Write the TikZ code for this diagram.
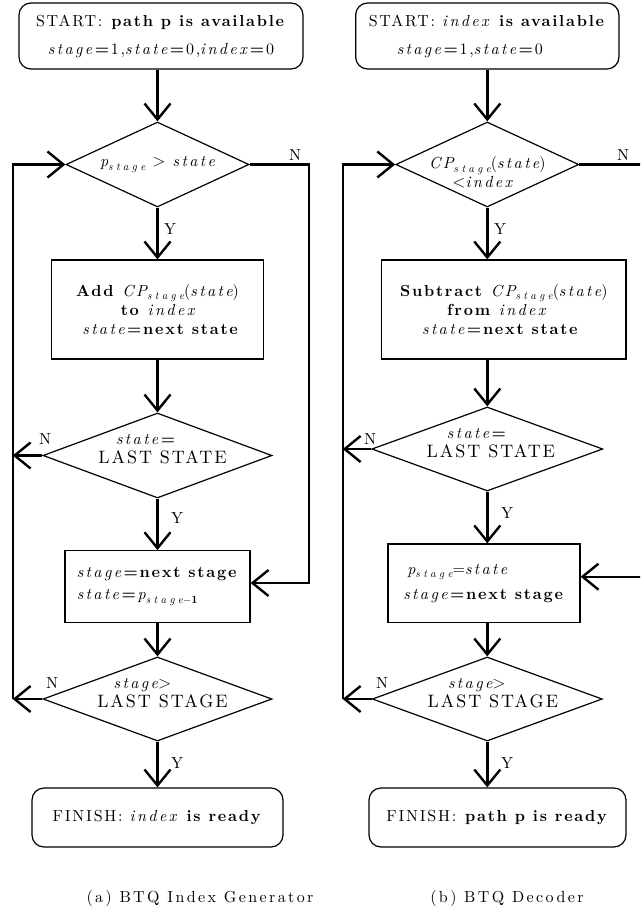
\documentclass[tikz,border=0pt]{standalone}
\usepackage{fontspec}
\setmainfont{lmroman10-regular.otf}[BoldFont=lmroman10-bold.otf,ItalicFont=lmroman10-italic.otf,BoldItalicFont=lmroman10-bolditalic.otf,LetterSpace=11]
\newfontfamily\itf{lmroman10-italic.otf}[LetterSpace=15]
\newfontfamily\subf{lmroman10-italic.otf}[LetterSpace=30]
\newfontfamily\subbf{lmroman10-bold.otf}
\newfontfamily\capfont{lmroman10-regular.otf}[LetterSpace=15]
\usetikzlibrary{arrows.meta,shapes.geometric}
\newcommand\vr[1]{{\itf #1}}
\newcommand\eqs{\textbf{=}}
\newcommand\sub[1]{\raisebox{-3.5pt}{\fontsize{11}{12}\selectfont\subf #1}}
\newcommand\subone{\raisebox{-3.5pt}{\fontsize{11}{12}\selectfont$-$\subbf 1}}
\newcommand\bigf{\fontsize{18}{20}\selectfont}
\begin{document}
\begin{tikzpicture}[x=1pt,y=-1pt,
  every node/.style={font=\fontsize{16}{19}\selectfont},
  conn/.style={line width=2.4pt},
  arr/.style={conn,-{Straight Barb[length=16pt,width=26pt,line width=2.4pt]}},
  rbox/.style={draw,line width=1.2pt,rounded corners=12pt,inner sep=0pt,align=center},
  sbox/.style={draw,line width=1.2pt,inner sep=0pt,align=center},
  dia/.style={draw,diamond,line width=1.2pt,inner sep=0pt},
  dtxt/.style={inner sep=0pt,align=center},
  yn/.style={inner sep=0pt},
  capt/.style={inner sep=0pt,font=\capfont\fontsize{16}{19}\selectfont}]
\useasboundingbox (0,0) rectangle (640,918);
\fill[white] (0,0) rectangle (640,918);
\clip (0,0) rectangle (640,918);

% ---------- (a) ----------
\node[rbox,minimum width=284pt,minimum height=66pt] (sa) at (161,36)
  {START: \textbf{path p is available}\\[9pt]\vr{stage}\eqs1,\vr{state}\eqs0,\vr{index}\eqs0};
\node[dia,minimum width=183pt,minimum height=85pt] (d1a) at (157.5,164.5) {};
\node[dtxt] (t1a) at (d1a.center) {\vr{p}\sub{stage} $>$ \vr{state}};
\node[sbox,minimum width=211.6pt,minimum height=99pt] (b2a) at (157.5,309.5)
  {\textbf{Add} \vr{CP}\sub{stage}(\vr{state})\\\textbf{to} \vr{index}\hspace*{18pt}\\\hspace*{7pt}\vr{state}\eqs\textbf{next state}};
\node[dia,minimum width=229pt,minimum height=85pt] (d2a) at (157.5,455.5) {};
\node[dtxt] (t2a) at ([xshift=5pt,yshift=6pt]d2a.center) {\vr{state}\eqs\hspace*{32pt}\\{\bigf LAST STATE}};
\node[sbox,align=left,minimum width=185pt,minimum height=72pt] (b3a) at (157.5,586.7)
  {\vr{stage}\eqs\textbf{next stage}\\[3pt]\vr{state}\eqs\vr{p}\sub{stage}\subone};
\node[dia,minimum width=229pt,minimum height=84pt] (d3a) at (157.5,699) {};
\node[dtxt] (t3a) at ([xshift=5pt,yshift=6pt]d3a.center) {\vr{stage}$>$\hspace*{40pt}\\{\bigf LAST STAGE}};
\node[rbox,minimum width=251pt,minimum height=59pt] (fa) at (157.5,817.5)
  {FINISH: \vr{index} \textbf{is ready}};

\coordinate (lxa) at (12.7,0);
\coordinate (rxa) at (309,0);
\coordinate (b3ain) at ([yshift=3.7pt]b3a.east);

\draw[arr] (sa.south -| d1a.north) -- (d1a.north);
\draw[arr] (d1a.south) -- (b2a.north);
\draw[arr] (b2a.south) -- (d2a.north);
\draw[arr] (d2a.south) -- (b3a.north);
\draw[arr] (b3a.south) -- (d3a.north);
\draw[arr] (d3a.south) -- (fa.north);
\draw[arr] (d2a.west) -- (d2a.west -| lxa);
\draw[arr] (d3a.west) -- (d3a.west -| lxa);
\draw[arr] (d3a.west -| lxa) -- (d1a.west -| lxa) -- (d1a.west);
\draw[arr] (d1a.east) -- (d1a.east -| rxa) -- (b3ain -| rxa) -- (b3ain);

\node[yn] (n1a) at (295,155) {N};
\node[yn] (y1a) at (170,229) {Y};
\node[yn] (n2a) at (45,439) {N};
\node[yn] (y2a) at (177,518) {Y};
\node[yn] (n3a) at (52,683) {N};
\node[yn] (y3a) at (177,763) {Y};

% ---------- (b) ----------
\node[rbox,align=left,minimum width=263.3pt,minimum height=66pt] (sb) at (487.3,36)
  {START: \vr{index} \textbf{is available}\\[9pt]\hspace*{28pt}\vr{stage}\eqs1,\vr{state}\eqs0};
\node[dia,minimum width=183pt,minimum height=85pt] (d1b) at (487.3,164.5) {};
\node[dtxt] (t1b) at ([yshift=-8pt]d1b.center) {\vr{CP}\sub{stage}(\vr{state})\\$<$\vr{index}\hspace*{10pt}};
\node[sbox,align=left,minimum width=244.3pt,minimum height=99pt] (b2b) at (503.8,309.5)
  {\textbf{Subtract} \vr{CP}\sub{stage}(\vr{state})\\\hspace*{47pt}\textbf{from} \vr{index}\\\hspace*{22pt}\vr{state}\eqs\textbf{next state}};
\node[dia,minimum width=231pt,minimum height=84pt] (d2b) at (487.3,449) {};
\node[dtxt] (t2b) at ([xshift=3.5pt,yshift=6pt]d2b.center) {\vr{state}\eqs\hspace*{27pt}\\{\bigf LAST STATE}};
\node[sbox,align=left,minimum width=192pt,minimum height=78.7pt] (b3b) at (484,583.3)
  {\hspace*{4pt}\vr{p}\sub{stage}=\vr{state}\\[6pt]\vr{stage}\eqs\textbf{next stage}};
\node[dia,minimum width=230pt,minimum height=84pt] (d3b) at (487.3,699) {};
\node[dtxt] (t3b) at ([xshift=5.5pt,yshift=6pt]d3b.center) {\vr{stage}$>$\hspace*{32pt}\\{\bigf LAST STAGE}};
\node[rbox,minimum width=257pt,minimum height=59pt] (fb) at (497.5,817.5)
  {FINISH: \textbf{path p is ready}};

\coordinate (lxb) at (342.7,0);
\coordinate (rxb) at (670,0);
\coordinate (b3bin) at ([yshift=6.6pt]b3b.east);

\draw[arr] (sb.south -| d1b.north) -- (d1b.north);
\draw[arr] (d1b.south) -- (d1b.south |- b2b.north);
\draw[arr] (d1b.south |- b2b.south) -- (d2b.north);
\draw[arr] (d2b.south) -- (d2b.south |- b3b.north);
\draw[arr] (d2b.south |- b3b.south) -- (d3b.north);
\draw[arr] (d3b.south) -- (d3b.south |- fb.north);
\draw[arr] (d2b.west) -- (d2b.west -| lxb);
\draw[arr] (d3b.west) -- (d3b.west -| lxb);
\draw[arr] (d3b.west -| lxb) -- (d1b.west -| lxb) -- (d1b.west);
\draw[arr] (d1b.east) -- (d1b.east -| rxb) -- (b3bin -| rxb) -- (b3bin);

\node[yn] (n1b) at (623,155) {N};
\node[yn] (y1b) at (500,229) {Y};
\node[yn] (n2b) at (370,439) {N};
\node[yn] (y2b) at (507,513) {Y};
\node[yn] (n3b) at (382,683) {N};
\node[yn] (y3b) at (507,763) {Y};

% ---------- captions ----------
\node[capt] (ca) at (200,898) {(a) BTQ Index Generator};
\node[capt] (cb) at (507,898) {(b) BTQ Decoder};
\end{tikzpicture}
\end{document}
